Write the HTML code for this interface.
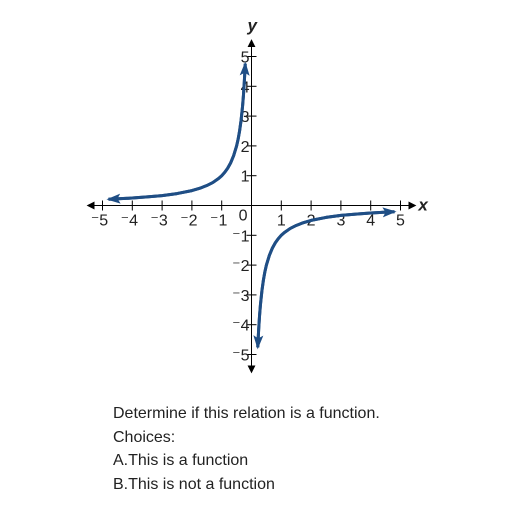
<!DOCTYPE html>
<html><head><meta charset="utf-8"><style>
body{margin:0;background:#fff;width:512px;height:512px;overflow:hidden;position:relative;font-family:"Liberation Sans",sans-serif}
.q{position:absolute;left:113px;font-size:16px;color:#222;line-height:23.5px;top:402px}
</style></head><body>
<svg width="512" height="400" style="position:absolute;left:0;top:0">
<defs>
<marker id="ah" markerWidth="8" markerHeight="8" refX="7" refY="4" orient="auto" markerUnits="userSpaceOnUse"><path d="M0,0 L8,4 L0,8 z" fill="#000"/></marker>
<marker id="bh" markerWidth="14" markerHeight="10" refX="12" refY="5" orient="auto" markerUnits="userSpaceOnUse"><path d="M0,0 L14,5 L0,10 L3,5 z" fill="#1f4e85"/></marker>
</defs>
<g id="axes"></g>
<g id="curves"></g>
</svg>
<div class="q">Determine if this relation is a function.<br>Choices:<br><span>A.This is a function</span><br><span>B.This is not a function</span></div>
<script>
const xTicks=[-5,-4,-3,-2,-1,1,2,3,4,5];
const yTicks=[-5,-4,-3,-2,-1,1,2,3,4,5];
const leftX=[-4.8,-4,-3.5,-3,-2.5,-2,-1.7,-1.5,-1.3,-1.1,-1,-0.9,-0.8,-0.7,-0.6,-0.5,-0.45,-0.4,-0.35,-0.3,-0.27,-0.24,-0.22,-0.21];
const leftY=[0.21,0.25,0.29,0.33,0.4,0.5,0.59,0.67,0.77,0.91,1,1.11,1.25,1.43,1.67,2,2.22,2.5,2.86,3.33,3.7,4.17,4.55,4.76];
const rightX=[0.21,0.22,0.24,0.27,0.3,0.35,0.4,0.45,0.5,0.6,0.7,0.8,0.9,1,1.1,1.3,1.5,1.7,2,2.5,3,3.5,4,4.8];
const rightY=[-4.76,-4.55,-4.17,-3.7,-3.33,-2.86,-2.5,-2.22,-2,-1.67,-1.43,-1.25,-1.11,-1,-0.91,-0.77,-0.67,-0.59,-0.5,-0.4,-0.33,-0.29,-0.25,-0.21];
const ox=251.5,oy=205.5,u=29.8;
const X=v=>ox+v*u, Y=v=>oy-v*u;
const NS="http://www.w3.org/2000/svg";
const ax=document.getElementById('axes'),cv=document.getElementById('curves');
function mk(t,a,p){const e=document.createElementNS(NS,t);for(const k in a)if(a[k]!=null)e.setAttribute(k,a[k]);p.appendChild(e);return e;}
let e=mk('line',{x1:X(-5.1)-5,y1:oy,x2:X(5.5),y2:oy,stroke:'#000','stroke-width':1,'marker-end':'url(#ah)'},ax);

e=mk('line',{x1:X(5.1),y1:oy,x2:X(-5.5),y2:oy,stroke:'#000','stroke-width':1,'marker-end':'url(#ah)'},ax);
e=mk('line',{x1:ox,y1:Y(-5.1),x2:ox,y2:Y(5.55),stroke:'#000','stroke-width':1,'marker-end':'url(#ah)'},ax);

e=mk('line',{x1:ox,y1:Y(5.1),x2:ox,y2:Y(-5.6),stroke:'#000','stroke-width':1,'marker-end':'url(#ah)'},ax);
xTicks.forEach(v=>{mk('line',{x1:X(v),y1:oy-5,x2:X(v),y2:oy+5,stroke:'#000'},ax);
 const t=mk('text',{x:X(v)+(v<0?-3:0),y:oy+20,'font-size':16,'text-anchor':'middle',fill:'#222'},ax);t.textContent=v<0?'\u207B'+(-v):v;
 });
yTicks.forEach(v=>{mk('line',{x1:ox-5,y1:Y(v),x2:ox+5,y2:Y(v),stroke:'#000'},ax);
 const t=mk('text',{x:ox-2,y:Y(v)+6,'font-size':16,'text-anchor':'end',fill:'#222'},ax);t.textContent=v<0?'\u207B'+(-v):v;
 });
let t=mk('text',{x:ox-4,y:oy+15,'font-size':16,'text-anchor':'end',fill:'#222'},ax);t.textContent='0';
t=mk('text',{x:X(5.6),y:oy+5,'font-size':17,'font-style':'italic','font-weight':'bold',fill:'#222'},ax);t.textContent='x';

t=mk('text',{x:ox-4,y:31,'font-size':17,'font-style':'italic','font-weight':'bold',fill:'#222'},ax);t.textContent='y';

function branch(xs,ys,name,end){
 const pts=xs.map((x,i)=>X(x)+','+Y(ys[i]));
 const p=mk('polyline',{points:pts.join(' '),fill:'none',stroke:'#1f4e85','stroke-width':3,'stroke-linejoin':'round','marker-end':end},cv);
 }
branch(leftX,leftY,'left-branch','url(#bh)');
branch([...leftX].reverse(),[...leftY].reverse(),'left-branch-arrow','url(#bh)');
branch(rightX,rightY,'right-branch','url(#bh)');
branch([...rightX].reverse(),[...rightY].reverse(),'right-branch-arrow','url(#bh)');
</script>
</body></html>
